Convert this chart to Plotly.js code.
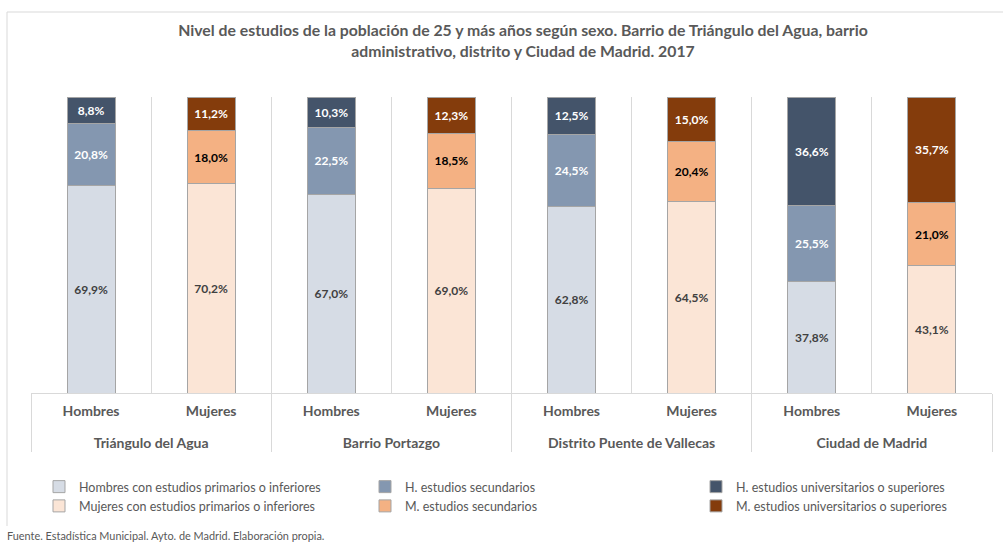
<!DOCTYPE html>
<html>
<head>
<meta charset="utf-8">
<script src="https://cdn.plot.ly/plotly-3.0.1.min.js"></script>
<style>
html,body{margin:0;padding:0;background:#fff;}
#chart{width:1003px;height:544px;}
</style>
</head>
<body>
<div id="chart"></div>
<script>
const zonas = ['Triángulo del Agua', 'Barrio Portazgo', 'Distrito Puente de Vallecas', 'Ciudad de Madrid'];
const sexos = ['Hombres', 'Mujeres'];

const hPrimarios = [69.9, 67.0, 62.8, 37.8];
const hSecundarios = [20.8, 22.5, 24.5, 25.5];
const hUniversitarios = [8.8, 10.3, 12.5, 36.6];
const mPrimarios = [70.2, 69.0, 64.5, 43.1];
const mSecundarios = [18.0, 18.5, 20.4, 21.0];
const mUniversitarios = [11.2, 12.3, 15.0, 35.7];

const nombres = [
  'Hombres con estudios primarios o inferiores',
  'H. estudios secundarios',
  'H. estudios universitarios o superiores',
  'Mujeres con estudios primarios o inferiores',
  'M. estudios secundarios',
  'M. estudios universitarios o superiores'
];
const colores = ['#d6dce5', '#8497b0', '#44546a', '#fbe5d6', '#f4b183', '#843c0c'];
const colorTexto = ['#404040', '#ffffff', '#ffffff', '#404040', '#000000', '#ffffff'];
// legend column of each series (H and M of the same level share a column)
const leyendas = ['legend', 'legend2', 'legend3', 'legend', 'legend2', 'legend3'];

const FONT = "Lato, sans-serif";

const xLvl1 = [], xLvl2 = [];
zonas.forEach(z => { sexos.forEach(s => { xLvl1.push(z); xLvl2.push(s + '<br> '); }); });

function serie(vals, sexo) {
  const y = [];
  zonas.forEach((z, i) => { sexos.forEach(s => { y.push(s === sexo ? vals[i] : null); }); });
  return y;
}
const fmt = v => v === null ? '' : v.toFixed(1).replace('.', ',') + '%';

const series = [
  [hPrimarios, 'Hombres'], [hSecundarios, 'Hombres'], [hUniversitarios, 'Hombres'],
  [mPrimarios, 'Mujeres'], [mSecundarios, 'Mujeres'], [mUniversitarios, 'Mujeres']
];

const data = series.map((s, k) => {
  const y = serie(s[0], s[1]);
  return {
    type: 'bar',
    name: nombres[k],
    legend: leyendas[k],
    x: [xLvl1, xLvl2],
    y: y,
    text: y.map(fmt),
    textposition: 'inside',
    insidetextanchor: 'middle',
    textangle: 0,
    textfont: {family: FONT, size: 12, color: colorTexto[k], weight: 'bold'},
    marker: {color: colores[k], line: {color: '#a5a5a5', width: 1}},
    hoverinfo: 'skip'
  };
});

// plot area: x 31..992, y 97..393
const L = 31, R = 992, T = 97, B = 393;
const W = R - L, H = B - T;
const px = v => (v - L) / W;
const py = v => (B - v) / H;

const legendBase = {
  orientation: 'v', xanchor: 'left', y: py(472), yanchor: 'top',
  traceorder: 'normal', borderwidth: 0,
  font: {family: FONT, size: 12.5, color: '#595959'},
  itemclick: false, itemdoubleclick: false
};

const layout = {
  width: 1003, height: 544,
  margin: {l: L, r: 1003 - R, t: T, b: 544 - B, pad: 0, autoexpand: false},
  paper_bgcolor: '#ffffff', plot_bgcolor: '#ffffff',
  font: {family: FONT, color: '#595959'},
  barmode: 'stack', barnorm: 'percent', bargap: 0.6,
  title: {
    text: 'Nivel de estudios de la población de 25 y más años según sexo. Barrio de Triángulo del Agua, barrio<br>administrativo, distrito y Ciudad de Madrid. 2017',
    font: {family: FONT, size: 15.8, color: '#595959', weight: 'bold'},
    x: px(523), xref: 'paper', xanchor: 'center',
    y: 1 - 36 / 544, yref: 'container', yanchor: 'top'
  },
  xaxis: {
    type: 'multicategory',
    showgrid: true, gridcolor: '#d9d9d9', gridwidth: 1,
    showline: true, linecolor: '#d9d9d9', linewidth: 1,
    showdividers: true, dividercolor: '#d9d9d9', dividerwidth: 1,
    ticks: '', ticklabelstandoff: 5,
    tickfont: {family: FONT, size: 14, color: '#595959', weight: 'bold'},
    fixedrange: true
  },
  yaxis: {
    range: [0, 100], showgrid: false, zeroline: false, showticklabels: false,
    showline: false, ticks: '', fixedrange: true
  },
  showlegend: true,
  legend: Object.assign({}, legendBase, {x: px(39)}),
  legend2: Object.assign({}, legendBase, {x: px(365)}),
  legend3: Object.assign({}, legendBase, {x: px(696)}),
  shapes: [
    {type: 'line', xref: 'paper', yref: 'paper', x0: px(7), x1: px(1010), y0: py(12), y1: py(12), line: {color: '#d9d9d9', width: 1}},
    {type: 'line', xref: 'paper', yref: 'paper', x0: px(7), x1: px(7), y0: py(12), y1: py(526), line: {color: '#d9d9d9', width: 1}}
  ],
  annotations: [
    {text: 'Fuente. Estadística Municipal. Ayto. de Madrid. Elaboración propia.', xref: 'paper', yref: 'paper',
     x: px(5), xanchor: 'left', y: py(535), yanchor: 'middle', showarrow: false,
     font: {family: FONT, size: 10.9, color: '#595959'}}
  ]
};

Plotly.newPlot('chart', data, layout, {displayModeBar: false, staticPlot: true});
</script>
</body>
</html>
